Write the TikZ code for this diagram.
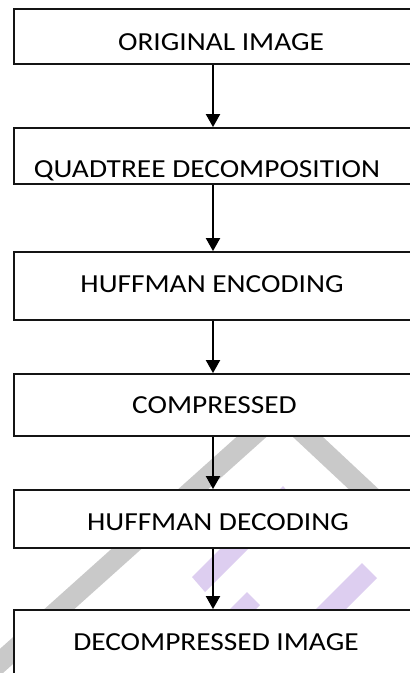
\documentclass[tikz,border=0pt]{standalone}
\usepackage{fontspec}
\setmainfont{Carlito}
\usetikzlibrary{arrows.meta}
\definecolor{wmgray}{RGB}{201,201,201}
\definecolor{wmpurple}{RGB}{221,206,240}
\definecolor{boxline}{RGB}{20,20,20}
\tikzset{
  stepbox/.style={overlay, fill=white, minimum width=406pt, inner sep=0pt, outer sep=0pt},
  border/.style={draw=boxline, line width=1.8pt},
  label/.style={anchor=base, inner sep=0pt, font=\fontsize{26}{30}\selectfont},
  flow/.style={line width=1.9pt, -{Triangle[width=14pt,length=13pt]}},
}
\newcommand{\wide}[1]{\scalebox{1.13}[1]{#1}}
\newcommand{\openbox}[1]{\draw[border] (#1.north east) -- (#1.north west) -- (#1.south west) -- (#1.south east);}
\begin{document}
\begin{tikzpicture}[x=1pt,y=-1pt]
\useasboundingbox (0,0) rectangle (410,673);
\fill[white] (0,0) rectangle (410,673);
\begin{scope}
\clip (0,0) rectangle (410,673);
% watermark
\fill[wmgray] (-27,673) -- (252,423) -- (282,423) -- (3,673) -- cycle;
\fill[wmgray] (278,423) -- (480,612) -- (510,612) -- (308,423) -- cycle;
\fill[wmpurple] (192,577) -- (205,592) -- (296,501) -- (283,486) -- cycle;
\fill[wmpurple] (247,592) -- (260,605) -- (230,635) -- (217,622) -- cycle;
\fill[wmpurple] (362,563) -- (377,578) -- (330,625) -- (315,610) -- cycle;
% boxes
\node[stepbox, minimum height=55pt] (b1) at (217,36.5) {};
\node[stepbox, minimum height=56pt] (b2) at (217,156) {};
\node[stepbox, minimum height=68pt] (b3) at (217,286) {};
\node[stepbox, minimum height=62pt] (b4) at (217,405) {};
\node[stepbox, minimum height=58pt] (b5) at (217,519) {};
\node[stepbox, minimum height=90pt] (b6) at (217,655) {};
\openbox{b1}\openbox{b2}\openbox{b3}\openbox{b4}\openbox{b5}\openbox{b6}
\end{scope}
% labels
\node[label] (t1) at (221,50) {\wide{ORIGINAL IMAGE}};
\node[label] (t2) at (207,177) {\wide{QUADTREE DECOMPOSITION}};
\node[label] (t3) at (212,292) {\wide{HUFFMAN ENCODING}};
\node[label] (t4) at (214.5,413) {\wide{COMPRESSED}};
\node[label] (t5) at (218,530) {\wide{HUFFMAN DECODING}};
\node[label] (t6) at (216,650) {\wide{DECOMPRESSED IMAGE}};
% connectors
\draw[flow] ([xshift=-4pt,yshift=-0.9pt]b1.south) -- ([xshift=-4pt,yshift=0.9pt]b2.north);
\draw[flow] ([xshift=-4pt,yshift=-0.9pt]b2.south) -- ([xshift=-4pt,yshift=0.9pt]b3.north);
\draw[flow] ([xshift=-4pt,yshift=-0.9pt]b3.south) -- ([xshift=-4pt,yshift=0.9pt]b4.north);
\draw[flow] ([xshift=-4pt,yshift=-0.9pt]b4.south) -- ([xshift=-4pt,yshift=0.9pt]b5.north);
\draw[flow] ([xshift=-4pt,yshift=-0.9pt]b5.south) -- ([xshift=-4pt,yshift=0.9pt]b6.north);
\end{tikzpicture}
\end{document}
